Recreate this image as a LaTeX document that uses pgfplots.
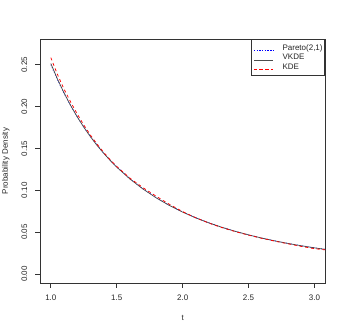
\documentclass[border=0pt]{standalone}
\usepackage{fontspec}
\setmainfont{Liberation Sans}
\usepackage{graphicx}
\usepackage{pgfplots}
\pgfplotsset{compat=1.18}
\definecolor{vk}{rgb}{0.3,0.3,0.3}
\begin{document}
\begin{tikzpicture}[x=1pt,y=1pt]
\useasboundingbox (0,0) rectangle (346,332);
\begin{axis}[
  at={(40.3pt,49pt)}, anchor=south west,
  scale only axis, width=284.7pt, height=244pt,
  xmin=0.92, xmax=3.08, ymin=-0.0108, ymax=0.2808,
  axis line style={line width=0.8pt, draw=black!80},
  tick style={line width=0.8pt, draw=black!80},
  tick align=outside, major tick length=5pt,
  xtick pos=left, ytick pos=left,
  xtick={1,1.5,2,2.5,3}, ytick={0,0.05,0.10,0.15,0.20,0.25},
  /pgf/number format/assume math mode=true,
  xticklabel style={/pgf/number format/fixed, /pgf/number format/fixed zerofill, /pgf/number format/precision=1, yshift=-3pt},
  yticklabel={\rotatebox{90}{\pgfmathprintnumber[fixed,fixed zerofill,precision=2]{\tick}}},
  yticklabel style={anchor=east, xshift=-4.5pt},
  tick label style={font=\fontsize{8}{9.6}\selectfont, text=black!85},
  label style={font=\fontsize{8}{9.6}\selectfont, text=black!85},
  xlabel={t}, ylabel={Probability Density},
  xlabel style={at={(axis description cs:0.5,-0.1422)}, anchor=center},
  ylabel style={at={(axis description cs:-0.1212,0.5)}, anchor=center},
  clip=true,
  legend style={at={(axis description cs:1,1)}, anchor=north east,
    draw=black!80, line width=0.8pt, fill=white,
    font=\fontsize{8}{9.6}\selectfont, text=black!85,
    inner xsep=2pt, inner ysep=5pt, row sep=2pt, column sep=9pt,
    nodes={inner sep=0pt, text height=6pt, text depth=1.5pt, anchor=base west}},
  legend cell align=left,
  legend image code/.code={\path (0pt,0pt) -- (19pt,0pt); \draw[#1, line width=0.6pt] (5pt,0pt) -- (19pt,0pt);},
]
\addplot[blue, line width=0.75pt, dash pattern=on 0.75pt off 2pt] coordinates {
(1.00,0.25000) (1.05,0.23215) (1.10,0.21596) (1.15,0.20124) (1.20,0.18783)
(1.25,0.17558) (1.30,0.16438) (1.35,0.15411) (1.40,0.14468) (1.45,0.13600)
(1.50,0.12800) (1.60,0.11379) (1.70,0.10161) (1.80,0.09111) (1.90,0.08200)
(2.00,0.07407) (2.10,0.06713) (2.20,0.06104) (2.30,0.05565) (2.40,0.05089)
(2.50,0.04665) (2.60,0.04287) (2.70,0.03948) (2.80,0.03645) (2.90,0.03372)
(3.00,0.03125) (3.10,0.02902)};
\addlegendentry{Pareto(2,1)}
\addplot[vk, line width=0.75pt] coordinates {
(1.00,0.25150) (1.05,0.23300) (1.10,0.21640) (1.15,0.20140) (1.20,0.18780)
(1.25,0.17540) (1.30,0.16410) (1.35,0.15380) (1.40,0.14440) (1.45,0.13570)
(1.50,0.12770) (1.60,0.11350) (1.70,0.10140) (1.80,0.09090) (1.90,0.08180)
(2.00,0.07390) (2.10,0.06705) (2.20,0.06100) (2.30,0.05565) (2.40,0.05090)
(2.50,0.04670) (2.60,0.04290) (2.70,0.03950) (2.80,0.03645) (2.90,0.03370)
(3.00,0.03120) (3.10,0.02900)};
\addlegendentry{VKDE}
\addplot[red, line width=0.75pt, dash pattern=on 2.9pt off 2.9pt] coordinates {
(1.00,0.2585) (1.05,0.2385) (1.10,0.2210) (1.15,0.2055) (1.20,0.1912)
(1.25,0.1780) (1.30,0.1660) (1.35,0.1553) (1.40,0.1455) (1.45,0.1365)
(1.50,0.1285) (1.60,0.1145) (1.70,0.1030) (1.80,0.0928) (1.90,0.0832)
(2.00,0.0745) (2.10,0.0671) (2.20,0.0607) (2.30,0.0553) (2.40,0.0506)
(2.50,0.0464) (2.60,0.0426) (2.70,0.0392) (2.80,0.0360) (2.90,0.0329)
(3.00,0.0302) (3.10,0.0285)};
\addlegendentry{KDE}
\end{axis}
\end{tikzpicture}
\end{document}
